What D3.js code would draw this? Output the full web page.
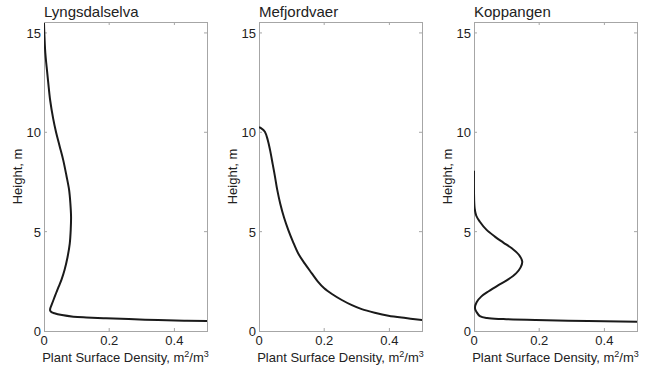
<!DOCTYPE html>
<html>
<head>
<meta charset="utf-8">
<script src="https://cdn.jsdelivr.net/npm/d3@7"></script>
<style>
  body { margin: 0; background: white; }
  text { font-family: Arial, "Liberation Sans", sans-serif; fill: #222; }
</style>
</head>
<body>
<div id="here"></div>
<script>
var w = 652, h = 368;

var sites = ['Lyngsdalselva', 'Mefjordvaer', 'Koppangen'];
var xTicks = [0, 0.2, 0.4];
var yTicks = [0, 5, 10, 15];

// height (m) and plant surface density (m2/m3)
var lyngHeight = [15.5, 15.0, 14.0, 13.3, 12.5, 11.6, 10.7, 10.0, 9.3, 8.6, 7.8, 7.1, 6.4, 5.75, 5.1, 4.4, 3.7, 3.07, 2.6, 2.23, 1.9, 1.56, 1.3, 1.12, 1.02, 0.95, 0.89, 0.8, 0.72, 0.68, 0.64, 0.6, 0.55, 0.52, 0.5, 0.49];
var lyngDensity = [0, 0.001, 0.004, 0.008, 0.013, 0.019, 0.028, 0.037, 0.048, 0.059, 0.069, 0.077, 0.081, 0.083, 0.082, 0.079, 0.072, 0.063, 0.054, 0.045, 0.037, 0.029, 0.023, 0.019, 0.019, 0.023, 0.032, 0.055, 0.09, 0.13, 0.19, 0.26, 0.35, 0.43, 0.5, 0.55];

var mefHeight = [10.25, 10.2, 10.03, 9.6, 9.1, 8.4, 7.77, 7.1, 6.42, 5.7, 5.08, 4.5, 3.91, 3.4, 2.9, 2.5, 2.15, 1.85, 1.56, 1.3, 1.1, 0.92, 0.77, 0.65, 0.55, 0.5];
var mefDensity = [0, 0.007, 0.018, 0.027, 0.034, 0.042, 0.049, 0.056, 0.065, 0.077, 0.09, 0.104, 0.12, 0.14, 0.162, 0.18, 0.2, 0.225, 0.254, 0.285, 0.315, 0.355, 0.397, 0.45, 0.5, 0.53];

var kopHeight = [8.07, 7.0, 6.17, 5.8, 5.5, 5.1, 4.75, 4.45, 4.16, 3.85, 3.49, 3.2, 2.9, 2.6, 2.31, 2.0, 1.73, 1.45, 1.14, 0.95, 0.75, 0.65, 0.6, 0.55, 0.5, 0.47, 0.46];
var kopDensity = [0, 0, 0.002, 0.007, 0.018, 0.038, 0.064, 0.09, 0.116, 0.137, 0.148, 0.143, 0.129, 0.105, 0.075, 0.045, 0.022, 0.008, 0.003, 0.008, 0.018, 0.04, 0.09, 0.19, 0.35, 0.5, 0.55];

var heights = [lyngHeight, mefHeight, kopHeight];
var densities = [lyngDensity, mefDensity, kopDensity];

var panelLeft = [44, 259, 474], panelW = 163, plotTop = 22, plotBottom = 331;
var axisColor = '#a6a6a6';

var svg = d3.select('#here').append('svg')
  .attr('width', w)
  .attr('height', h);

sites.forEach(function(site, i) {
  var x = d3.scaleLinear().domain([0, 0.5]).range([panelLeft[i], panelLeft[i] + panelW]);
  var y = d3.scaleLinear().domain([0, 15.55]).range([plotBottom, plotTop]);

  var g = svg.append('g');

  svg.append('clipPath').attr('id', 'clip' + i)
    .append('rect')
    .attr('x', x(0)).attr('y', y(15.55))
    .attr('width', panelW).attr('height', plotBottom - plotTop);

  // ticks inside the box, on all four sides
  xTicks.forEach(function(t) {
    if (t === 0) return;
    g.append('line').attr('x1', x(t)).attr('x2', x(t)).attr('y1', plotBottom).attr('y2', plotBottom - 3)
      .attr('stroke', axisColor);
    g.append('line').attr('x1', x(t)).attr('x2', x(t)).attr('y1', plotTop).attr('y2', plotTop + 3)
      .attr('stroke', axisColor);
  });
  yTicks.forEach(function(t) {
    if (t === 0) return;
    g.append('line').attr('y1', y(t)).attr('y2', y(t)).attr('x1', x(0)).attr('x2', x(0) + 3)
      .attr('stroke', axisColor);
    g.append('line').attr('y1', y(t)).attr('y2', y(t)).attr('x1', x(0.5)).attr('x2', x(0.5) - 3)
      .attr('stroke', axisColor);
  });

  g.append('rect')
    .attr('x', x(0) + 0.5).attr('y', plotTop + 0.5)
    .attr('width', panelW).attr('height', plotBottom - plotTop)
    .attr('fill', 'none')
    .attr('stroke', axisColor);

  // tick labels
  g.selectAll('.xl').data(xTicks).enter().append('text')
    .attr('x', function(d) { return x(d); })
    .attr('y', plotBottom + 14)
    .style('text-anchor', 'middle')
    .style('font-size', '13px')
    .text(function(d) { return d; });

  g.selectAll('.yl').data(yTicks).enter().append('text')
    .attr('x', x(0) - 3)
    .attr('y', function(d) { return y(d) + 5; })
    .style('text-anchor', 'end')
    .style('font-size', '13px')
    .text(function(d) { return d; });

  // profile
  var pts = heights[i].map(function(hh, k) { return [densities[i][k], hh]; });
  var line = d3.line()
    .x(function(d) { return x(d[0]); })
    .y(function(d) { return y(d[1]); })
    .curve(d3.curveCatmullRom.alpha(0.5));

  g.append('path')
    .attr('d', line(pts))
    .attr('clip-path', 'url(#clip' + i + ')')
    .attr('fill', 'none')
    .attr('stroke', '#1a1a1a')
    .attr('stroke-width', 2);

  // titles and labels
  g.append('text')
    .attr('x', x(0))
    .attr('y', 17)
    .style('font-size', '15px')
    .text(site);

  g.append('text')
    .attr('transform', 'translate(' + (x(0) - 22) + ',' + ((plotTop + plotBottom) / 2) + ') rotate(-90)')
    .style('text-anchor', 'middle')
    .style('font-size', '13px')
    .text('Height, m');

  var xl = g.append('text')
    .attr('x', x(0.25))
    .attr('y', 362)
    .style('text-anchor', 'middle')
    .style('font-size', '13px');
  xl.append('tspan').text('Plant Surface Density, m');
  xl.append('tspan').attr('dy', -5).style('font-size', '9px').text('2');
  xl.append('tspan').attr('dy', 5).text('/m');
  xl.append('tspan').attr('dy', -5).style('font-size', '9px').text('3');
});
</script>
</body>
</html>
